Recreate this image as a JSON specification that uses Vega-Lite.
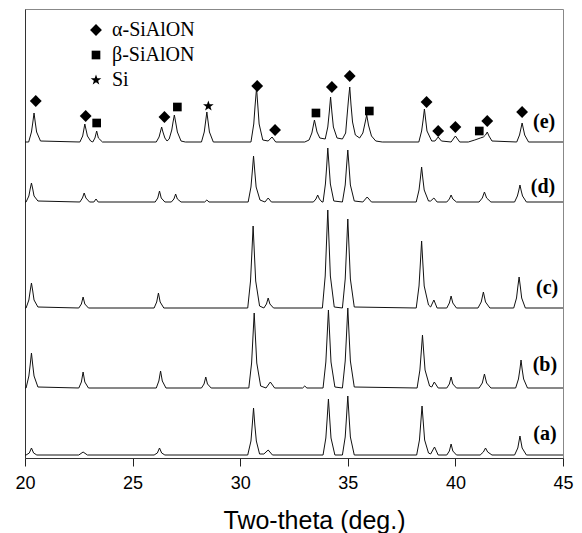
{
"$schema": "https://vega.github.io/schema/vega-lite/v6.json",
"autosize": {"type": "none"},
"width": 538,
"height": 449,
"padding": {"left": 25, "top": 9, "right": 19, "bottom": 75},
"background": "white",
"config": {"view": {"stroke": "#888", "strokeWidth": 1}},
"datasets": {
"tr": [
{"t":"a","x":20,"y":2},{"t":"a","x":20.05,"y":2},{"t":"a","x":20.2,"y":4},{"t":"a","x":20.3,"y":9},{"t":"a","x":20.4,"y":4},{"t":"a","x":20.55,"y":2},{"t":"a","x":22.5,"y":2},{"t":"a","x":22.7,"y":5},{"t":"a","x":22.9,"y":2},{"t":"a","x":26.0,"y":2},{"t":"a","x":26.15,"y":4},{"t":"a","x":26.25,"y":9},{"t":"a","x":26.35,"y":4},{"t":"a","x":26.5,"y":2},{"t":"a","x":30.35,"y":2},{"t":"a","x":30.5,"y":16},{"t":"a","x":30.56,"y":32},{"t":"a","x":30.62,"y":49},{"t":"a","x":30.68,"y":32},{"t":"a","x":30.75,"y":16},{"t":"a","x":30.9,"y":3},{"t":"a","x":31.1,"y":3},{"t":"a","x":31.3,"y":7},{"t":"a","x":31.5,"y":2},{"t":"a","x":33.85,"y":2},{"t":"a","x":33.98,"y":19},{"t":"a","x":34.04,"y":38},{"t":"a","x":34.1,"y":58},{"t":"a","x":34.16,"y":38},{"t":"a","x":34.22,"y":19},{"t":"a","x":34.4,"y":2},{"t":"a","x":34.75,"y":2},{"t":"a","x":34.88,"y":20},{"t":"a","x":34.94,"y":40},{"t":"a","x":35.0,"y":61},{"t":"a","x":35.06,"y":40},{"t":"a","x":35.12,"y":20},{"t":"a","x":35.3,"y":2},{"t":"a","x":38.2,"y":2},{"t":"a","x":38.33,"y":17},{"t":"a","x":38.39,"y":34},{"t":"a","x":38.45,"y":51},{"t":"a","x":38.51,"y":34},{"t":"a","x":38.57,"y":17},{"t":"a","x":38.75,"y":4},{"t":"a","x":38.85,"y":3},{"t":"a","x":39.03,"y":10},{"t":"a","x":39.2,"y":2},{"t":"a","x":39.6,"y":2},{"t":"a","x":39.72,"y":6},{"t":"a","x":39.8,"y":13},{"t":"a","x":39.88,"y":6},{"t":"a","x":40.05,"y":2},{"t":"a","x":41.15,"y":2},{"t":"a","x":41.3,"y":5},{"t":"a","x":41.4,"y":9},{"t":"a","x":41.5,"y":5},{"t":"a","x":41.7,"y":2},{"t":"a","x":42.75,"y":2},{"t":"a","x":42.9,"y":9},{"t":"a","x":43.0,"y":21},{"t":"a","x":43.1,"y":9},{"t":"a","x":43.3,"y":2},{"t":"a","x":45,"y":2},

{"t":"b","x":20,"y":69},{"t":"b","x":20.05,"y":69},{"t":"b","x":20.18,"y":81},{"t":"b","x":20.24,"y":92},{"t":"b","x":20.3,"y":104},{"t":"b","x":20.36,"y":92},{"t":"b","x":20.42,"y":81},{"t":"b","x":20.6,"y":70},{"t":"b","x":22.5,"y":69},{"t":"b","x":22.62,"y":75},{"t":"b","x":22.7,"y":85},{"t":"b","x":22.78,"y":75},{"t":"b","x":22.95,"y":69},{"t":"b","x":26.1,"y":69},{"t":"b","x":26.22,"y":76},{"t":"b","x":26.3,"y":86},{"t":"b","x":26.38,"y":76},{"t":"b","x":26.55,"y":69},{"t":"b","x":28.2,"y":69},{"t":"b","x":28.32,"y":73},{"t":"b","x":28.4,"y":80},{"t":"b","x":28.48,"y":73},{"t":"b","x":28.65,"y":69},{"t":"b","x":30.4,"y":69},{"t":"b","x":30.53,"y":94},{"t":"b","x":30.59,"y":119},{"t":"b","x":30.65,"y":144},{"t":"b","x":30.71,"y":119},{"t":"b","x":30.77,"y":94},{"t":"b","x":30.95,"y":71},{"t":"b","x":31.2,"y":69},{"t":"b","x":31.4,"y":75},{"t":"b","x":31.6,"y":69},{"t":"b","x":32.9,"y":69},{"t":"b","x":33.0,"y":71},{"t":"b","x":33.1,"y":69},{"t":"b","x":33.85,"y":69},{"t":"b","x":33.98,"y":95},{"t":"b","x":34.04,"y":121},{"t":"b","x":34.1,"y":147},{"t":"b","x":34.16,"y":121},{"t":"b","x":34.22,"y":95},{"t":"b","x":34.4,"y":70},{"t":"b","x":34.75,"y":69},{"t":"b","x":34.88,"y":96},{"t":"b","x":34.94,"y":122},{"t":"b","x":35.0,"y":149},{"t":"b","x":35.06,"y":122},{"t":"b","x":35.12,"y":96},{"t":"b","x":35.3,"y":70},{"t":"b","x":38.22,"y":69},{"t":"b","x":38.35,"y":87},{"t":"b","x":38.41,"y":104},{"t":"b","x":38.47,"y":122},{"t":"b","x":38.53,"y":104},{"t":"b","x":38.59,"y":87},{"t":"b","x":38.8,"y":71},{"t":"b","x":38.9,"y":70},{"t":"b","x":39.02,"y":75},{"t":"b","x":39.2,"y":69},{"t":"b","x":39.6,"y":69},{"t":"b","x":39.72,"y":73},{"t":"b","x":39.8,"y":80},{"t":"b","x":39.88,"y":73},{"t":"b","x":40.05,"y":69},{"t":"b","x":41.1,"y":69},{"t":"b","x":41.25,"y":74},{"t":"b","x":41.35,"y":83},{"t":"b","x":41.45,"y":74},{"t":"b","x":41.65,"y":69},{"t":"b","x":42.8,"y":69},{"t":"b","x":42.93,"y":78},{"t":"b","x":43.0,"y":88},{"t":"b","x":43.05,"y":97},{"t":"b","x":43.1,"y":88},{"t":"b","x":43.17,"y":78},{"t":"b","x":43.35,"y":69},{"t":"b","x":45,"y":69},

{"t":"c","x":20,"y":149},{"t":"c","x":20.05,"y":149},{"t":"c","x":20.18,"y":157},{"t":"c","x":20.24,"y":166},{"t":"c","x":20.3,"y":174},{"t":"c","x":20.36,"y":166},{"t":"c","x":20.42,"y":157},{"t":"c","x":20.6,"y":150},{"t":"c","x":22.5,"y":149},{"t":"c","x":22.62,"y":153},{"t":"c","x":22.7,"y":160},{"t":"c","x":22.78,"y":153},{"t":"c","x":22.95,"y":149},{"t":"c","x":26.0,"y":149},{"t":"c","x":26.12,"y":155},{"t":"c","x":26.2,"y":164},{"t":"c","x":26.28,"y":155},{"t":"c","x":26.45,"y":149},{"t":"c","x":30.35,"y":149},{"t":"c","x":30.48,"y":176},{"t":"c","x":30.54,"y":203},{"t":"c","x":30.6,"y":231},{"t":"c","x":30.66,"y":203},{"t":"c","x":30.72,"y":176},{"t":"c","x":30.9,"y":151},{"t":"c","x":31.1,"y":149},{"t":"c","x":31.22,"y":153},{"t":"c","x":31.3,"y":159},{"t":"c","x":31.38,"y":153},{"t":"c","x":31.55,"y":149},{"t":"c","x":33.82,"y":149},{"t":"c","x":33.95,"y":181},{"t":"c","x":34.01,"y":214},{"t":"c","x":34.07,"y":247},{"t":"c","x":34.13,"y":214},{"t":"c","x":34.19,"y":181},{"t":"c","x":34.37,"y":150},{"t":"c","x":34.75,"y":149},{"t":"c","x":34.88,"y":178},{"t":"c","x":34.94,"y":208},{"t":"c","x":35.0,"y":238},{"t":"c","x":35.06,"y":208},{"t":"c","x":35.12,"y":178},{"t":"c","x":35.3,"y":150},{"t":"c","x":38.18,"y":149},{"t":"c","x":38.31,"y":171},{"t":"c","x":38.37,"y":193},{"t":"c","x":38.43,"y":216},{"t":"c","x":38.49,"y":193},{"t":"c","x":38.55,"y":171},{"t":"c","x":38.75,"y":152},{"t":"c","x":38.85,"y":150},{"t":"c","x":39.0,"y":157},{"t":"c","x":39.15,"y":149},{"t":"c","x":39.6,"y":149},{"t":"c","x":39.72,"y":154},{"t":"c","x":39.8,"y":161},{"t":"c","x":39.88,"y":154},{"t":"c","x":40.05,"y":149},{"t":"c","x":41.05,"y":149},{"t":"c","x":41.2,"y":155},{"t":"c","x":41.3,"y":165},{"t":"c","x":41.4,"y":155},{"t":"c","x":41.6,"y":149},{"t":"c","x":42.71,"y":149},{"t":"c","x":42.84,"y":159},{"t":"c","x":42.9,"y":170},{"t":"c","x":42.96,"y":180},{"t":"c","x":43.02,"y":170},{"t":"c","x":43.08,"y":159},{"t":"c","x":43.25,"y":149},{"t":"c","x":45,"y":149},

{"t":"d","x":20,"y":255},{"t":"d","x":20.05,"y":255},{"t":"d","x":20.18,"y":261},{"t":"d","x":20.24,"y":268},{"t":"d","x":20.3,"y":274},{"t":"d","x":20.36,"y":268},{"t":"d","x":20.42,"y":261},{"t":"d","x":20.6,"y":256},{"t":"d","x":22.55,"y":255},{"t":"d","x":22.67,"y":259},{"t":"d","x":22.75,"y":264},{"t":"d","x":22.83,"y":259},{"t":"d","x":23.0,"y":255},{"t":"d","x":23.2,"y":255},{"t":"d","x":23.3,"y":258},{"t":"d","x":23.4,"y":255},{"t":"d","x":26.05,"y":255},{"t":"d","x":26.17,"y":259},{"t":"d","x":26.25,"y":266},{"t":"d","x":26.33,"y":259},{"t":"d","x":26.5,"y":255},{"t":"d","x":26.8,"y":255},{"t":"d","x":26.92,"y":258},{"t":"d","x":27.0,"y":263},{"t":"d","x":27.08,"y":258},{"t":"d","x":27.25,"y":255},{"t":"d","x":28.35,"y":255},{"t":"d","x":28.45,"y":257},{"t":"d","x":28.55,"y":255},{"t":"d","x":30.37,"y":255},{"t":"d","x":30.5,"y":270},{"t":"d","x":30.56,"y":285},{"t":"d","x":30.62,"y":301},{"t":"d","x":30.68,"y":285},{"t":"d","x":30.74,"y":270},{"t":"d","x":30.92,"y":257},{"t":"d","x":31.15,"y":255},{"t":"d","x":31.3,"y":259},{"t":"d","x":31.45,"y":255},{"t":"d","x":33.4,"y":255},{"t":"d","x":33.52,"y":258},{"t":"d","x":33.6,"y":262},{"t":"d","x":33.68,"y":258},{"t":"d","x":33.8,"y":255},{"t":"d","x":33.85,"y":255},{"t":"d","x":33.96,"y":273},{"t":"d","x":34.02,"y":291},{"t":"d","x":34.07,"y":309},{"t":"d","x":34.13,"y":291},{"t":"d","x":34.19,"y":273},{"t":"d","x":34.35,"y":256},{"t":"d","x":34.75,"y":255},{"t":"d","x":34.88,"y":272},{"t":"d","x":34.94,"y":290},{"t":"d","x":35.0,"y":307},{"t":"d","x":35.06,"y":290},{"t":"d","x":35.12,"y":272},{"t":"d","x":35.3,"y":256},{"t":"d","x":35.7,"y":255},{"t":"d","x":35.9,"y":260},{"t":"d","x":36.1,"y":255},{"t":"d","x":38.18,"y":255},{"t":"d","x":38.31,"y":267},{"t":"d","x":38.37,"y":278},{"t":"d","x":38.43,"y":290},{"t":"d","x":38.49,"y":278},{"t":"d","x":38.55,"y":267},{"t":"d","x":38.75,"y":256},{"t":"d","x":38.85,"y":256},{"t":"d","x":39.0,"y":259},{"t":"d","x":39.15,"y":255},{"t":"d","x":39.6,"y":255},{"t":"d","x":39.72,"y":258},{"t":"d","x":39.8,"y":262},{"t":"d","x":39.88,"y":258},{"t":"d","x":40.05,"y":255},{"t":"d","x":41.1,"y":255},{"t":"d","x":41.25,"y":259},{"t":"d","x":41.35,"y":265},{"t":"d","x":41.45,"y":259},{"t":"d","x":41.65,"y":255},{"t":"d","x":42.75,"y":255},{"t":"d","x":42.88,"y":261},{"t":"d","x":42.94,"y":266},{"t":"d","x":43.0,"y":272},{"t":"d","x":43.06,"y":266},{"t":"d","x":43.12,"y":261},{"t":"d","x":43.3,"y":255},{"t":"d","x":45,"y":255},

{"t":"e","x":20,"y":315},{"t":"e","x":20.17,"y":315},{"t":"e","x":20.3,"y":325},{"t":"e","x":20.36,"y":334},{"t":"e","x":20.42,"y":344},{"t":"e","x":20.48,"y":334},{"t":"e","x":20.54,"y":325},{"t":"e","x":20.72,"y":316},{"t":"e","x":22.55,"y":315},{"t":"e","x":22.68,"y":321},{"t":"e","x":22.73,"y":327},{"t":"e","x":22.78,"y":333},{"t":"e","x":22.84,"y":327},{"t":"e","x":22.9,"y":321},{"t":"e","x":23.05,"y":316},{"t":"e","x":23.15,"y":315},{"t":"e","x":23.25,"y":319},{"t":"e","x":23.33,"y":326},{"t":"e","x":23.41,"y":319},{"t":"e","x":23.6,"y":315},{"t":"e","x":26.1,"y":315},{"t":"e","x":26.23,"y":320},{"t":"e","x":26.29,"y":325},{"t":"e","x":26.35,"y":330},{"t":"e","x":26.41,"y":325},{"t":"e","x":26.5,"y":319},{"t":"e","x":26.6,"y":316},{"t":"e","x":26.7,"y":318},{"t":"e","x":26.82,"y":327},{"t":"e","x":26.88,"y":335},{"t":"e","x":26.94,"y":342},{"t":"e","x":27.0,"y":335},{"t":"e","x":27.08,"y":325},{"t":"e","x":27.25,"y":316},{"t":"e","x":27.45,"y":315},{"t":"e","x":28.2,"y":315},{"t":"e","x":28.33,"y":325},{"t":"e","x":28.39,"y":335},{"t":"e","x":28.45,"y":345},{"t":"e","x":28.51,"y":335},{"t":"e","x":28.57,"y":325},{"t":"e","x":28.75,"y":315},{"t":"e","x":30.5,"y":315},{"t":"e","x":30.63,"y":333},{"t":"e","x":30.69,"y":351},{"t":"e","x":30.76,"y":369},{"t":"e","x":30.82,"y":351},{"t":"e","x":30.88,"y":333},{"t":"e","x":31.05,"y":317},{"t":"e","x":31.3,"y":316},{"t":"e","x":31.48,"y":320},{"t":"e","x":31.65,"y":315},{"t":"e","x":33.0,"y":315},{"t":"e","x":33.2,"y":317},{"t":"e","x":33.33,"y":324},{"t":"e","x":33.45,"y":337},{"t":"e","x":33.57,"y":325},{"t":"e","x":33.7,"y":319},{"t":"e","x":33.95,"y":318},{"t":"e","x":34.07,"y":330},{"t":"e","x":34.14,"y":345},{"t":"e","x":34.2,"y":360},{"t":"e","x":34.26,"y":345},{"t":"e","x":34.33,"y":330},{"t":"e","x":34.5,"y":319},{"t":"e","x":34.75,"y":318},{"t":"e","x":34.9,"y":324},{"t":"e","x":34.97,"y":342},{"t":"e","x":35.03,"y":357},{"t":"e","x":35.09,"y":370},{"t":"e","x":35.15,"y":352},{"t":"e","x":35.22,"y":335},{"t":"e","x":35.35,"y":322},{"t":"e","x":35.55,"y":319},{"t":"e","x":35.7,"y":324},{"t":"e","x":35.8,"y":334},{"t":"e","x":35.88,"y":342},{"t":"e","x":35.96,"y":332},{"t":"e","x":36.1,"y":321},{"t":"e","x":36.3,"y":316},{"t":"e","x":36.6,"y":315},{"t":"e","x":38.3,"y":315},{"t":"e","x":38.43,"y":326},{"t":"e","x":38.5,"y":337},{"t":"e","x":38.56,"y":348},{"t":"e","x":38.62,"y":337},{"t":"e","x":38.68,"y":326},{"t":"e","x":38.9,"y":316},{"t":"e","x":39.05,"y":316},{"t":"e","x":39.2,"y":320},{"t":"e","x":39.35,"y":316},{"t":"e","x":39.8,"y":315},{"t":"e","x":40.0,"y":321},{"t":"e","x":40.2,"y":315},{"t":"e","x":40.6,"y":315},{"t":"e","x":40.9,"y":317},{"t":"e","x":41.16,"y":319},{"t":"e","x":41.3,"y":320},{"t":"e","x":41.4,"y":322},{"t":"e","x":41.48,"y":325},{"t":"e","x":41.56,"y":321},{"t":"e","x":41.7,"y":316},{"t":"e","x":42.85,"y":315},{"t":"e","x":42.98,"y":322},{"t":"e","x":43.04,"y":328},{"t":"e","x":43.1,"y":334},{"t":"e","x":43.16,"y":328},{"t":"e","x":43.22,"y":322},{"t":"e","x":43.4,"y":315},{"t":"e","x":45,"y":315}
],
"mk": [
{"p":"α-SiAlON","x":20.5,"y":356},{"p":"α-SiAlON","x":22.82,"y":341},{"p":"α-SiAlON","x":26.48,"y":340},{"p":"α-SiAlON","x":30.79,"y":371},{"p":"α-SiAlON","x":31.62,"y":327},{"p":"α-SiAlON","x":34.26,"y":370},{"p":"α-SiAlON","x":35.09,"y":381},{"p":"α-SiAlON","x":38.66,"y":355},{"p":"α-SiAlON","x":39.2,"y":326},{"p":"α-SiAlON","x":40.0,"y":330},{"p":"α-SiAlON","x":41.48,"y":336},{"p":"α-SiAlON","x":43.1,"y":345},
{"p":"β-SiAlON","x":23.33,"y":334},{"p":"β-SiAlON","x":27.08,"y":350},{"p":"β-SiAlON","x":33.52,"y":344},{"p":"β-SiAlON","x":36.0,"y":346},{"p":"β-SiAlON","x":41.11,"y":326},
{"p":"Si","x":28.52,"y":351}
],
"lb": [
{"l":"(e)","x":44.12,"y":335},{"l":"(d)","x":44.07,"y":270},{"l":"(c)","x":44.26,"y":169},{"l":"(b)","x":44.16,"y":92},{"l":"(a)","x":44.16,"y":23}
]
},
"layer": [
{
"data": {"name": "tr"},
"mark": {"type": "line", "stroke": "#111", "strokeWidth": 1, "interpolate": "linear"},
"encoding": {
"x": {"field": "x", "type": "quantitative", "scale": {"domain": [20, 45], "nice": false, "zero": false},
"axis": {"values": [20, 25, 30, 35, 40, 45], "grid": false, "tickSize": 8, "tickColor": "#222", "domainColor": "#333", "labelFont": "Liberation Sans", "labelFontSize": 18, "labelColor": "#000", "labelPadding": 8, "labelFlush": false, "title": "Two-theta (deg.)", "titleFont": "Liberation Sans", "titleFontSize": 25, "titleFontWeight": "normal", "titleColor": "#000", "titleX": 289, "titleY": 70, "titleAlign": "center", "titleBaseline": "alphabetic"}},
"y": {"field": "y", "type": "quantitative", "scale": {"domain": [-1, 448], "nice": false, "zero": false},
"axis": {"labels": false, "ticks": false, "grid": false, "title": null, "domainColor": "#333"}},
"detail": {"field": "t", "type": "nominal"}
}
},
{
"data": {"name": "mk"},
"mark": {"type": "point", "filled": true, "color": "#000", "opacity": 1, "strokeWidth": 0},
"encoding": {
"x": {"field": "x", "type": "quantitative"},
"y": {"field": "y", "type": "quantitative"},
"shape": {"field": "p", "type": "nominal", "scale": {"domain": ["α-SiAlON", "β-SiAlON", "Si"], "range": ["diamond", "square", "M0,-1L0.235,-0.324L0.951,-0.309L0.38,0.124L0.588,0.809L0,0.4L-0.588,0.809L-0.38,0.124L-0.951,-0.309L-0.235,-0.324Z"]},
"legend": {"title": null, "orient": "none", "legendX": 61, "legendY": 11, "padding": 0, "labelFont": "Liberation Serif", "labelFontSize": 20, "labelColor": "#000", "labelOffset": 6, "rowPadding": 5, "symbolFillColor": "#000", "symbolStrokeWidth": 0, "symbolOpacity": 1}},
"size": {"field": "p", "type": "nominal", "scale": {"type": "ordinal", "domain": ["α-SiAlON", "β-SiAlON", "Si"], "range": [140, 75, 125]}}
}
},
{
"data": {"name": "lb"},
"mark": {"type": "text", "font": "Liberation Serif", "fontWeight": "bold", "fontSize": 20, "color": "#000", "align": "center", "baseline": "middle"},
"encoding": {
"x": {"field": "x", "type": "quantitative"},
"y": {"field": "y", "type": "quantitative"},
"text": {"field": "l", "type": "nominal"}
}
}
]
}
